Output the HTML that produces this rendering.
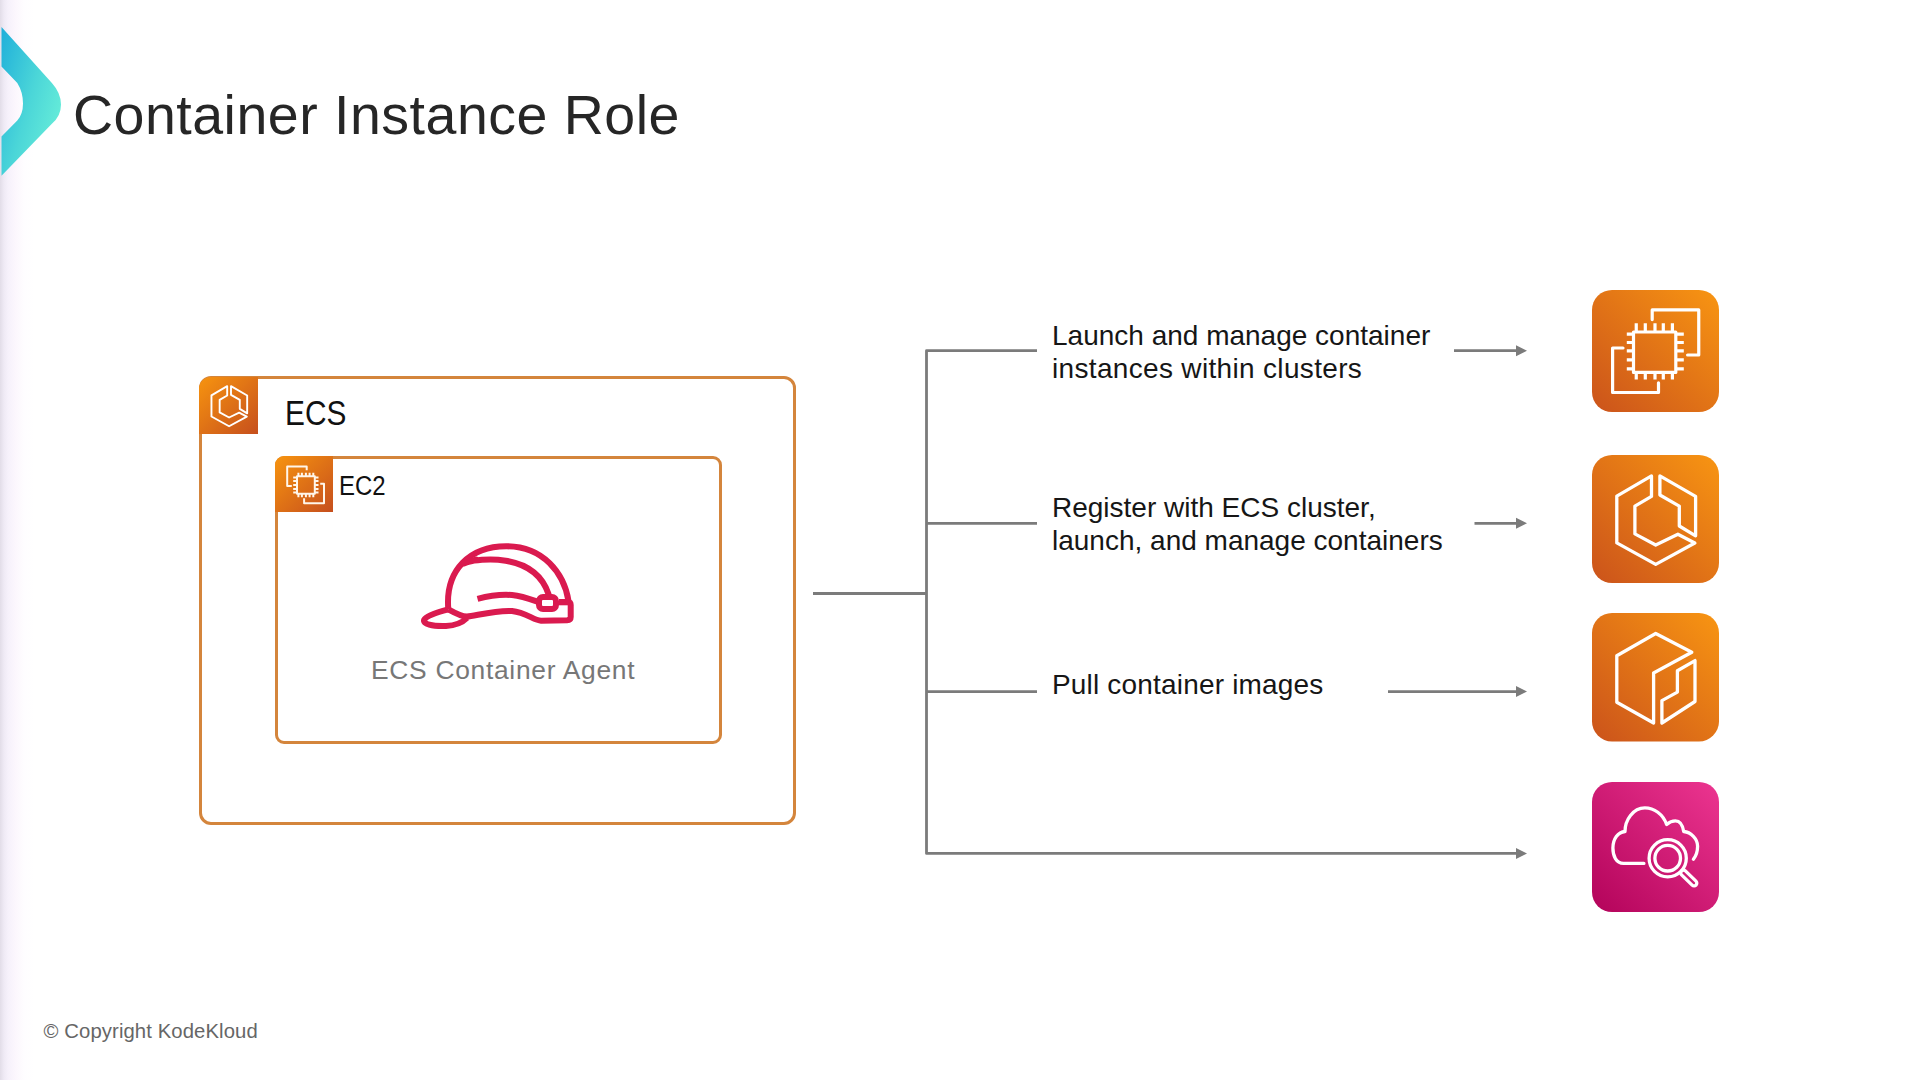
<!DOCTYPE html>
<html><head><meta charset="utf-8">
<style>
html,body{margin:0;padding:0;}
body{width:1920px;height:1080px;position:relative;overflow:hidden;background:#fff;font-family:"Liberation Sans",sans-serif;}
.abs{position:absolute;}
.t{position:absolute;white-space:pre;line-height:1;}
#edge{left:0;top:0;width:34px;height:1080px;background:linear-gradient(90deg,#e2dde8 0px,#efeaf5 4px,#f6f1fb 8px,#fcf7fd 16px,#fefdff 24px,#fff 34px);}
#title{left:73px;top:88px;font-size:55.5px;letter-spacing:0.5px;color:#262626;}
.box{position:absolute;border:3px solid #d4853c;box-sizing:border-box;}
#ecsbox{left:199px;top:376px;width:597px;height:449px;border-radius:12px;}
#ec2box{left:275px;top:456px;width:447px;height:288px;border-radius:9px;}
#ecslbl{left:285px;top:396px;font-size:35.5px;color:#111;transform:scaleX(0.84);transform-origin:0 0;}
#ec2lbl{left:338.5px;top:471px;font-size:28.2px;color:#111;transform:scaleX(0.85);transform-origin:0 0;}
#agent{left:371px;top:657px;font-size:26.4px;color:#777;letter-spacing:0.7px;}
.desc{font-size:28px;color:#161616;line-height:33.3px;}
#copy{left:43.5px;top:1021.4px;letter-spacing:0.1px;font-size:20.3px;color:#666;}
</style></head>
<body>
<div id="edge" class="abs"></div>
<svg class="abs" style="left:0;top:0" width="80" height="200" viewBox="0 0 80 200">
  <defs><linearGradient id="chev" x1="0" y1="0" x2="1" y2="0.7"><stop offset="0" stop-color="#1fafda"/><stop offset="0.55" stop-color="#4bd6d8"/><stop offset="1" stop-color="#68eed9"/></linearGradient></defs>
  <path d="M1.5 27 L51.9 82.9 Q61 93 61 104.5 Q61 116 51.9 123.8 L1.5 175.7 L1.5 136.4 L17.3 120.6 Q23 114 23 103.5 Q23 92 17.3 82.9 L1.5 66.4 Z" fill="url(#chev)"/>
</svg>
<div id="title" class="t">Container Instance Role</div>

<div id="ecsbox" class="box"></div>
<div id="ec2box" class="box"></div>
<svg class="abs" style="left:199px;top:377px" width="59" height="57" viewBox="0 0 59 57">
  <path d="M0 57 V12 A12 12 0 0 1 12 0 H59 V57 Z" fill="url(#gOrS)"/>
  <use href="#ecsSym" x="1" y="-0.3" width="58" height="58" stroke-width="4.2" style="stroke:#fff6ea"/>
</svg>
<svg class="abs" style="left:275px;top:456px" width="58" height="56" viewBox="0 0 58 56">
  <path d="M0 56 V9 A9 9 0 0 1 9 0 H58 V56 Z" fill="url(#gOrS)"/>
  <g fill="none" stroke="#fff6ea" stroke-width="2" stroke-linejoin="round">
    <path d="M31.7 14.2 V10.5 H12.2 V30 H16.8"/>
    <path d="M45.2 27.7 H49 V47.2 H29.1 V42.3"/>
    <rect x="22" y="20.2" width="17.8" height="17.6"/>
    <path d="M23.4 16.8 V20.2 M26.9 16.8 V20.2 M30.9 16.8 V20.2 M34.6 16.8 V20.2 M38.3 16.8 V20.2 M23.4 37.8 V41.2 M26.9 37.8 V41.2 M30.9 37.8 V41.2 M34.6 37.8 V41.2 M38.3 37.8 V41.2 M18.2 21.4 H22 M18.2 25.1 H22 M18.2 29.1 H22 M18.2 32.9 H22 M18.2 36.6 H22 M39.8 21.4 H43.5 M39.8 25.1 H43.5 M39.8 29.1 H43.5 M39.8 32.9 H43.5 M39.8 36.6 H43.5"/>
  </g>
</svg>
<div id="ecslbl" class="t">ECS</div>
<div id="ec2lbl" class="t">EC2</div>
<svg class="abs" style="left:0;top:0;overflow:visible" width="1" height="1">
  <g fill="none" stroke="#da1a4f" stroke-width="6" stroke-linejoin="round" stroke-linecap="butt">
    <path d="M448.3 609.3 C445 570, 470 546, 507 546.3 C543 546.5, 564 573, 568.5 601"/>
    <path d="M464 563.5 C470 561, 476 559.6, 476 559.6 M468.4 562 C475.9 559.6, 533.7 550.4, 548.5 594" stroke-linecap="round"/>
    <path d="M477.5 598.8 C492 595, 505 594.5, 512 595 C522 596, 530 599, 537 601.5"/>
    <rect x="539" y="597" width="17" height="12" rx="4"/>
    <path d="M559 602.3 H568"/>
    <path d="M448.3 609.3 C438 612, 426 616, 424.2 619.7 C422.5 624, 432 626.5, 446 626 C455 625.5, 462 623, 467 618"/>
    <path d="M448.3 609.3 C455 613, 462 616.5, 467 616.6 C475 616, 495 610, 512 611 C526 612.5, 534 620.5, 541 620.7 L567 620.2 Q570.7 620 570.7 617 V605 Q570.7 602 567.7 602 H559"/>
  </g>
</svg>
<div id="agent" class="t">ECS Container Agent</div>

<svg class="abs" style="left:0;top:0" width="1920" height="1080">
  <g stroke="#7b7b7b" stroke-width="2.8" fill="none">
    <path d="M1037 350.7 H926.5 V853.4 H1517" stroke-linejoin="round"/>
    <path d="M813 593.5 H926.5 M926.5 523.3 H1037 M926.5 691.6 H1037 M1454 350.7 H1517 M1474.5 523.3 H1517 M1388 691.6 H1517"/>
  </g>
  <g fill="#7b7b7b">
    <path d="M1516 345.2 L1527 350.7 L1516 356.2 Z"/>
    <path d="M1516 517.8 L1527 523.3 L1516 528.8 Z"/>
    <path d="M1516 686.1 L1527 691.6 L1516 697.1 Z"/>
    <path d="M1516 847.9 L1527 853.4 L1516 858.9 Z"/>
  </g>
</svg>

<div class="t desc" style="left:1052px;top:318.9px;">Launch and manage container</div>
<div class="t desc" style="left:1052px;top:352.2px;letter-spacing:0.33px;">instances within clusters</div>
<div class="t desc" style="left:1052px;top:491.4px;">Register with ECS cluster,</div>
<div class="t desc" style="left:1052px;top:524.3px;">launch, and manage containers</div>
<div class="t desc" style="left:1052px;top:667.6px;letter-spacing:0.18px;">Pull container images</div>

<svg class="abs" style="left:0;top:0;overflow:visible" width="1920" height="1080">
<defs>
  <linearGradient id="gOr" x1="0" y1="1" x2="1" y2="0"><stop offset="0" stop-color="#cb531b"/><stop offset="1" stop-color="#f89512"/></linearGradient>
  <linearGradient id="gOrS" x1="0" y1="0" x2="1" y2="1"><stop offset="0" stop-color="#f7940f"/><stop offset="1" stop-color="#c64f1d"/></linearGradient>
  <linearGradient id="gPk" x1="0" y1="1" x2="1" y2="0"><stop offset="0" stop-color="#b3035a"/><stop offset="1" stop-color="#ec3590"/></linearGradient>
  <symbol id="ecsSym" viewBox="0 0 127 128">
    <g fill="none" stroke="#fff" stroke-linejoin="round">
      <path d="M59.5 20.9 L24.8 41.2 L24.8 87.9 L63.7 109.4 L102.8 88 L85.9 79.2 L63.7 90 L42.9 78.9 L42.9 51.1 L59.5 41.4 Z"/>
      <path d="M67.9 20.9 L103.6 41.4 L103.6 80.8 L87.3 71 L87.3 51.1 L67.9 40 Z"/>
    </g>
  </symbol>
</defs>
<!-- big EC2 -->
<g transform="translate(1592 290)">
  <rect width="127" height="122" rx="20" fill="url(#gOr)"/>
  <g fill="none" stroke="#fff" stroke-width="3.2" stroke-linejoin="round" stroke-linecap="round">
    <path d="M60.2 29.6 V19.9 H106.75 V65 H95.6"/>
    <path d="M31 58 H20.6 V102.5 H66.5 V92.8"/>
    <rect x="41.5" y="42" width="42.3" height="40.4"/>
    <path stroke-linecap="butt" d="M44.25 33.2 V42 M53.3 33.2 V42 M63 33.2 V42 M71.3 33.2 V42 M80.4 33.2 V42 M44.25 82.4 V89.6 M53.3 82.4 V89.6 M63 82.4 V89.6 M71.3 82.4 V89.6 M80.4 82.4 V89.6 M34.8 44.2 H41.5 M34.8 52.5 H41.5 M34.8 60.8 H41.5 M34.8 69.9 H41.5 M34.8 78.9 H41.5 M83.8 44.2 H91.8 M83.8 52.5 H91.8 M83.8 60.8 H91.8 M83.8 69.9 H91.8 M83.8 78.9 H91.8"/>
  </g>
</g>
<!-- big ECS -->
<g transform="translate(1592 455)">
  <rect width="127" height="128" rx="20" fill="url(#gOr)"/>
  <use href="#ecsSym" x="0" y="0" width="127" height="128" stroke-width="3.3"/>
</g>
<!-- big ECR -->
<g transform="translate(1592 613)">
  <rect width="127" height="128.4" rx="20" fill="url(#gOr)"/>
  <g fill="none" stroke="#fff" stroke-width="3.3" stroke-linejoin="round">
    <path d="M24.8 42.7 L63.7 20.5 L99.8 39.2 L61.6 60 L61.6 110 L24.8 89.2 Z"/>
    <path d="M69.9 110 L69.9 87.6 L85.4 79.1 L85.4 57.8 L103 47.6 L103 88.5 Z"/>
  </g>
</g>
<!-- big CloudWatch -->
<g transform="translate(1592 782)">
  <rect width="127" height="130" rx="20" fill="url(#gPk)"/>
  <g fill="none" stroke="#fff" stroke-width="3.3" stroke-linecap="round" stroke-linejoin="round">
    <path d="M51.9 81.4 H31.5 C24 81.4, 20.9 74, 20.9 66.1 C20.9 57, 26 50, 33 49.5 C33 38, 41 26, 52.8 25.9 C62 25.9, 71 32, 74.6 42.5 C78 39.5, 81 38.8, 83.4 38.8 C87 38.8, 90.5 42, 91.7 49.5 C99 50, 105.6 57, 105.6 64.3 C105.6 70, 104 74, 101.4 77.3"/>
    <circle cx="75.7" cy="76.2" r="18.6"/>
    <circle cx="75.7" cy="76.2" r="12.8"/>
    <rect x="0" y="-2.75" width="20.2" height="5.5" rx="2.75" transform="translate(89.5 89) rotate(44)"/>
  </g>
</g>
</svg>
<div id="copy" class="t">© Copyright KodeKloud</div>
</body></html>
